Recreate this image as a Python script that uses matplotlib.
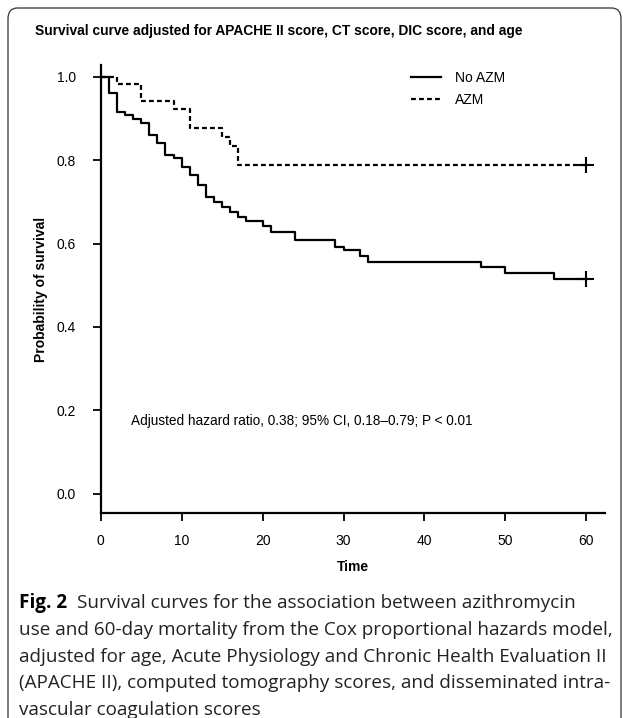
import matplotlib.pyplot as plt
from matplotlib.patches import FancyBboxPatch

# Kaplan-Meier style step data
no_azm_time = [0, 1, 2, 3, 4, 5, 6, 7, 8, 9, 10, 11, 12, 13, 14, 15, 16, 17, 18,
               20, 21, 24, 29, 30, 32, 33, 47, 50, 56, 60]
no_azm_surv = [1.0, 0.960, 0.916, 0.908, 0.899, 0.888, 0.860, 0.842, 0.812, 0.804,
               0.784, 0.764, 0.740, 0.712, 0.700, 0.688, 0.676, 0.664, 0.654,
               0.643, 0.628, 0.608, 0.592, 0.584, 0.570, 0.556, 0.544, 0.529,
               0.515, 0.515]
azm_time = [0, 2, 5, 9, 11, 15, 16, 17, 60]
azm_surv = [1.0, 0.982, 0.942, 0.922, 0.878, 0.856, 0.835, 0.788, 0.788]

x_ticks = [0, 10, 20, 30, 40, 50, 60]
y_ticks = [0.0, 0.2, 0.4, 0.6, 0.8, 1.0]

TITLE = "Survival curve adjusted for APACHE II score, CT score, DIC score, and age"
NOTE = "Adjusted hazard ratio, 0.38; 95% CI, 0.18\u20130.79; P < 0.01"
CAPTION = [
    "use and 60-day mortality from the Cox proportional hazards model,",
    "adjusted for age, Acute Physiology and Chronic Health Evaluation II",
    "(APACHE II), computed tomography scores, and disseminated intra-",
    "vascular coagulation scores",
]

W, H = 627, 718
FS = 10
plt.rcParams['font.family'] = ['Liberation Sans', 'DejaVu Sans']

fig = plt.figure(figsize=(W / 100, H / 100), dpi=100)

# rounded frame around the figure panel
frame = FancyBboxPatch((8 / W, -0.05), 613 / W, (H - 8) / H + 0.05,
                       boxstyle="round,pad=0,rounding_size=0.015",
                       transform=fig.transFigure, fill=False,
                       edgecolor='#333333', linewidth=0.9)
fig.patches.append(frame)

ax = fig.add_axes([100.7 / W, 1 - 513 / H, (605 - 100.7) / W, (513 - 65) / H])

ax.step(no_azm_time, no_azm_surv, where='post', color='black', lw=1.6,
        label='No AZM')
ax.step(azm_time, azm_surv, where='post', color='black', lw=1.6,
        linestyle=(0, (2.2, 1.4)), label='AZM')
# censor marks at the end
ax.plot([no_azm_time[-1]], [no_azm_surv[-1]], marker='+', ms=11, mew=1.5,
        color='black')
ax.plot([azm_time[-1]], [azm_surv[-1]], marker='+', ms=11, mew=1.5,
        color='black')

ax.set_xlim(0, 62.3)
ax.set_ylim(-0.046, 1.028)
ax.set_xticks(x_ticks)
ax.set_yticks(y_ticks)
ax.set_yticklabels([f"{v:.1f}" for v in y_ticks])
ax.tick_params(direction='out', length=6, width=1.3, labelsize=FS)
ax.tick_params(axis='y', pad=12)
ax.tick_params(axis='x', pad=9)
for s in ['top', 'right']:
    ax.spines[s].set_visible(False)
for s in ['left', 'bottom']:
    ax.spines[s].set_linewidth(1.6)

ax.set_xlabel("Time", fontsize=FS, fontweight='bold', labelpad=9)
ax.set_ylabel("Probability of survival", fontsize=FS, fontweight='bold',
              labelpad=6)

leg = ax.legend(loc='upper left',
                bbox_to_anchor=((398 - 100.7) / (605 - 100.7), 1.015),
                frameon=False, fontsize=FS, handlelength=2.2,
                labelspacing=0.6, handletextpad=1.0)

fig.text(131 / W, 1 - 421 / H, NOTE, fontsize=9.8, va='center', ha='left')

fig.text(35 / W, 1 - 31 / H, TITLE, fontsize=9.9, fontweight='bold',
         va='center', ha='left')

# caption
cap_font = ['Open Sans', 'DejaVu Sans']
fig.text(19 / W, 1 - 603 / H, "Fig. 2", fontsize=13.6, fontweight='bold',
         family=cap_font, va='center', ha='left')
fig.text(77 / W, 1 - 603 / H, "Survival curves for the association between azithromycin",
         fontsize=13.6, family=cap_font, va='center', ha='left', color='#222222')
for i, line in enumerate(CAPTION):
    fig.text(19 / W, 1 - (630 + 26.7 * i) / H, line, fontsize=13.6,
             family=cap_font, va='center', ha='left', color='#222222')

fig.savefig("out.png", dpi=100)
